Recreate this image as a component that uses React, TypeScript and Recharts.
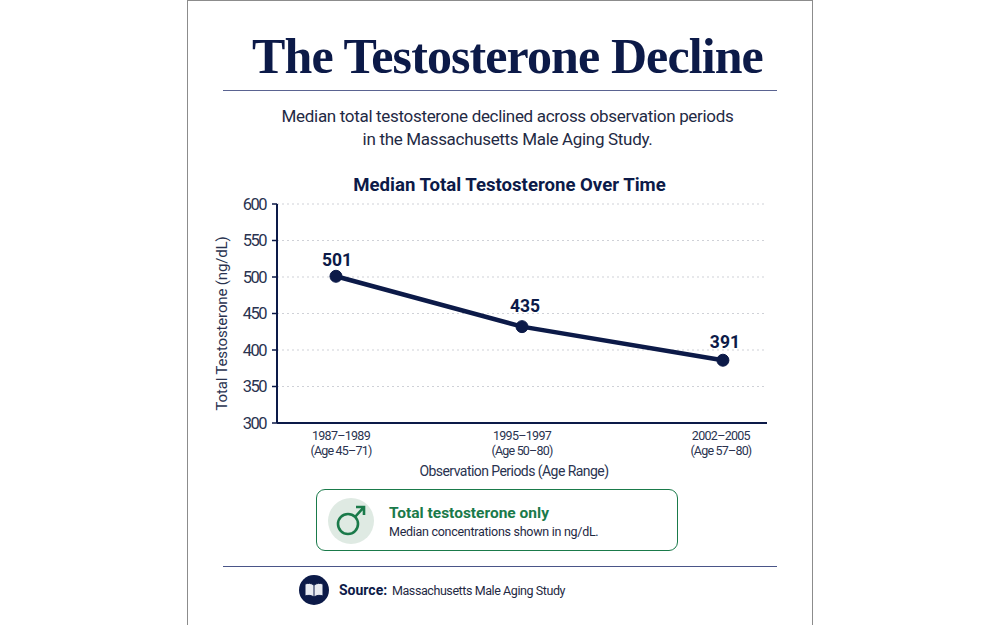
import React from "react";
import { LineChart, Line, XAxis, YAxis, CartesianGrid, LabelList, Label, ReferenceLine } from "recharts";

const NAVY = "#0c1a48";
const GREEN = "#1a7a4a";
const SANS = "Roboto, sans-serif";

const periods = ["1987–1989", "1995–1997", "2002–2005"];
const ageRanges = ["(Age 45–71)", "(Age 50–80)", "(Age 57–80)"];
// Horizontal spacing in the reference is slightly uneven.
const periodPositions = [1, 2, 3.08];
// Heights as drawn in the reference.
const plottedValues = [501, 432, 386];
// Values as printed next to the points.
const printedValues = [501, 435, 391];
const yTicks = [300, 350, 400, 450, 500, 550, 600];

const data = periods.map((p, i) => ({
  pos: periodPositions[i],
  period: p,
  age: ageRanges[i],
  value: plottedValues[i],
  printed: printedValues[i],
}));

const tickShift = [5, 0, -2];
const labelShiftX = [1, 3, 2];
const labelShiftY = [-16, -21, -18];

const PeriodTick = (props: any) => {
  const { x, y, payload } = props;
  const i = periodPositions.indexOf(payload.value);
  const font = { fontFamily: SANS, fontSize: 12.5, letterSpacing: -0.7, fill: "#2a3350", textAnchor: "middle" as const };
  return (
    <g>
      <text x={x + tickShift[i]} y={y + 9} {...font}>{periods[i]}</text>
      <text x={x + tickShift[i]} y={y + 24} {...font} letterSpacing={-0.8}>{ageRanges[i]}</text>
    </g>
  );
};

const PointLabel = (props: any) => {
  const { x, y, index, value } = props;
  return (
    <text
      x={x + labelShiftX[index]}
      y={y + labelShiftY[index]}
      dominantBaseline="central"
      textAnchor="middle"
      fontSize={17.5}
      fontWeight={700}
      fill={NAVY}
      fontFamily={SANS}
    >
      {value}
    </text>
  );
};

const abs = (o: React.CSSProperties): React.CSSProperties => ({ position: "absolute", ...o });

export default function App() {
  return (
    <div style={{ position: "absolute", left: 0, top: 0, width: 1000, height: 625, background: "#fff", overflow: "hidden", fontFamily: SANS }}>
      <div style={abs({ left: 187, top: 0, width: 626, height: 627, border: "1px solid #8c8c8c", boxSizing: "border-box", background: "#fff" })} />
      <div style={abs({ left: 192.5, width: 630, top: 26, textAlign: "center", fontFamily: "'Liberation Serif', serif", fontWeight: 700, fontSize: 50, letterSpacing: -0.9, lineHeight: "60px", color: NAVY, whiteSpace: "nowrap" })}>
        The Testosterone Decline
      </div>
      <div style={abs({ left: 223, top: 90, width: 554, height: 1, background: "#5a6391" })} />
      <div style={abs({ left: 192.5, width: 630, top: 105, textAlign: "center", fontSize: 17, letterSpacing: -0.32, lineHeight: "23px", color: "#1f2a44" })}>
        Median total testosterone declined across observation periods<br />in the Massachusetts Male Aging Study.
      </div>
      <div style={abs({ left: 197, width: 625, top: 174, textAlign: "center", fontSize: 18.6, fontWeight: 700, lineHeight: "22px", color: NAVY })}>
        Median Total Testosterone Over Time
      </div>

      <div style={abs({ left: 187, top: 190 })}>
        <LineChart width={620} height={306} data={data} margin={{ top: 14, right: 40, bottom: 0, left: 0 }}>
          <CartesianGrid horizontal vertical={false} stroke="#cfd1d7" strokeDasharray="2 3" />
          <XAxis
            dataKey="pos"
            type="number"
            domain={[0.683, 3.317]}
            ticks={periodPositions}
            tick={<PeriodTick />}
            tickLine={false}
            axisLine={{ stroke: NAVY, strokeWidth: 2 }}
            height={73}
          >
            <Label value="Observation Periods (Age Range)" position="insideBottom" offset={20} fontSize={14} letterSpacing={-0.55} fill="#2a3350" fontFamily={SANS} dx={-8} />
          </XAxis>
          <YAxis
            domain={[300, 600]}
            ticks={yTicks}
            width={90}
            tick={{ fontSize: 16.5, letterSpacing: -1.5, fill: "#2a3350", fontFamily: SANS }}
            tickLine={{ stroke: NAVY, strokeWidth: 1.5 }}
            tickSize={5}
            tickMargin={6}
            axisLine={{ stroke: NAVY, strokeWidth: 2 }}
          >
            <Label value="Total Testosterone (ng/dL)" angle={-90} position="insideLeft" offset={35} dy={10} fontSize={15} letterSpacing={-0.15} fill="#2a3350" fontFamily={SANS} style={{ textAnchor: "middle" }} />
          </YAxis>
          <ReferenceLine y={300} stroke={NAVY} strokeWidth={2} />
          <Line
            dataKey="value"
            stroke={NAVY}
            strokeWidth={4.5}
            dot={{ r: 6, fill: NAVY, stroke: NAVY, strokeWidth: 1 }}
            isAnimationActive={false}
          >
            <LabelList dataKey="printed" content={<PointLabel />} />
          </Line>
        </LineChart>
      </div>

      <div style={abs({ left: 316, top: 489, width: 362, height: 62, border: `1px solid ${GREEN}`, borderRadius: 9, boxSizing: "border-box", background: "#fff" })} />
      <div style={abs({ left: 328, top: 498, width: 46, height: 46, borderRadius: 23, background: "#dfeae3" })} />
      <svg style={abs({ left: 328, top: 498 })} width={46} height={46}>
        <circle cx={20} cy={26} r={10} fill="none" stroke={GREEN} strokeWidth={2.6} />
        <path d="M27 19 L36 9 M28 9 H36 V17" fill="none" stroke={GREEN} strokeWidth={2.6} />
      </svg>
      <div style={abs({ left: 389, top: 503, fontSize: 15.5, fontWeight: 700, lineHeight: "20px", color: GREEN, whiteSpace: "nowrap" })}>Total testosterone only</div>
      <div style={abs({ left: 389, top: 523, fontSize: 12.5, letterSpacing: -0.28, lineHeight: "18px", color: "#1f2a44", whiteSpace: "nowrap" })}>Median concentrations shown in ng/dL.</div>

      <div style={abs({ left: 223, top: 566, width: 554, height: 1, background: "#4a5588" })} />
      <div style={abs({ left: 299, top: 575, width: 30, height: 30, borderRadius: 15, background: NAVY })} />
      <svg style={abs({ left: 299, top: 575 })} width={30} height={30}>
        <path d="M15 10 C12 8 9 8 6 9 V21 C9 20 12 20 15 22 C18 20 21 20 24 21 V9 C21 8 18 8 15 10 Z M15 10 V22" fill="#e8ebf2" stroke={NAVY} strokeWidth={1} />
      </svg>
      <div style={abs({ left: 339, top: 581, fontSize: 14, fontWeight: 700, lineHeight: "18px", color: NAVY, whiteSpace: "nowrap" })}>Source:</div>
      <div style={abs({ left: 392, top: 582, fontSize: 12.5, letterSpacing: -0.42, lineHeight: "18px", color: "#1f2a44", whiteSpace: "nowrap" })}>Massachusetts Male Aging Study</div>
    </div>
  );
}
